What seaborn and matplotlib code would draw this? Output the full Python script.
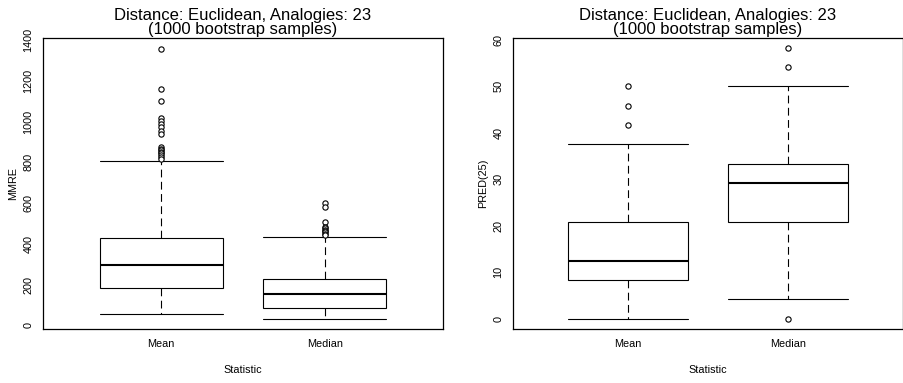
import pandas as pd
import seaborn as sns
import matplotlib.pyplot as plt

# five-number summaries (min whisker, Q1, median, Q3, max whisker)
stat_names = ["Mean", "Median"]
mmre_mean = [56, 183, 296, 428, 809]
mmre_median = [31, 87, 154, 227, 433]
pred_mean = [0, 8.33, 12.5, 20.83, 37.5]
pred_median = [4.17, 20.83, 29.17, 33.33, 50]

# outliers
mmre_mean_out = [1355, 1162, 1101, 1020, 1005, 990, 972, 955, 940,
                 877, 868, 860, 852, 845, 838, 828, 818]
mmre_median_out = [603, 583, 505, 482, 476, 470, 463, 456, 449, 443]
pred_mean_out = [41.67, 45.83, 50]
pred_median_out = [0, 54.17, 58.33]

title = "Distance: Euclidean, Analogies: 23\n(1000 bootstrap samples)"


def make_frames(a, b, a_out, b_out, name):
    box = pd.DataFrame({"Statistic": ["Mean"] * len(a) + ["Median"] * len(b),
                        name: a + b})
    out = pd.DataFrame({"Statistic": ["Mean"] * len(a_out) + ["Median"] * len(b_out),
                        name: a_out + b_out})
    return box, out


def r_boxplot(ax, box, out, name, ylim, yticks):
    sns.boxplot(data=box, x="Statistic", y=name, order=stat_names, ax=ax,
                whis=(0, 100), width=0.75, color="white", linecolor="black",
                linewidth=0.8, showfliers=False, capwidths=0.75,
                medianprops={"linewidth": 1.5},
                whiskerprops={"linestyle": (0, (7, 4))})
    sns.stripplot(data=out, x="Statistic", y=name, order=stat_names, ax=ax,
                  jitter=False, color="white", edgecolor="black",
                  linewidth=0.8, size=3.8, zorder=5)
    ax.set_xlim(-0.72, 1.72)
    ax.set_ylim(*ylim)
    ax.set_yticks(yticks)
    ax.set_yticklabels([str(t) for t in yticks], rotation=90, va="center")
    ax.tick_params(axis="y", length=5, width=0.8, labelsize=7.8, pad=2,
                   colors="black")
    ax.tick_params(axis="x", length=0, labelsize=7.8, pad=7, colors="black")
    ax.set_xlabel("Statistic", fontsize=7.8, labelpad=12)
    ax.set_ylabel(name, fontsize=7.8, labelpad=4)
    ax.set_title(title, fontsize=12, linespacing=0.9, pad=3)
    for s in ax.spines.values():
        s.set_visible(True)
        s.set_color("black")
        s.set_linewidth(0.9)


sns.set_theme(style="white")
plt.rcParams["font.family"] = ["Liberation Sans", "DejaVu Sans"]
plt.rcParams["text.color"] = "black"
plt.rcParams["axes.labelcolor"] = "black"

fig = plt.figure(figsize=(9.04, 3.83), dpi=100)
ax1 = fig.add_axes([0.0476, 0.141, 0.4424, 0.76])
ax2 = fig.add_axes([0.5675, 0.141, 0.4315, 0.76])

box1, out1 = make_frames(mmre_mean, mmre_median, mmre_mean_out, mmre_median_out, "MMRE")
box2, out2 = make_frames(pred_mean, pred_median, pred_mean_out, pred_median_out, "PRED(25)")

r_boxplot(ax1, box1, out1, "MMRE", (-18, 1411), list(range(0, 1401, 200)))
r_boxplot(ax2, box2, out2, "PRED(25)", (-2.2, 60.4), list(range(0, 61, 10)))

fig.savefig("out.png", dpi=100)
